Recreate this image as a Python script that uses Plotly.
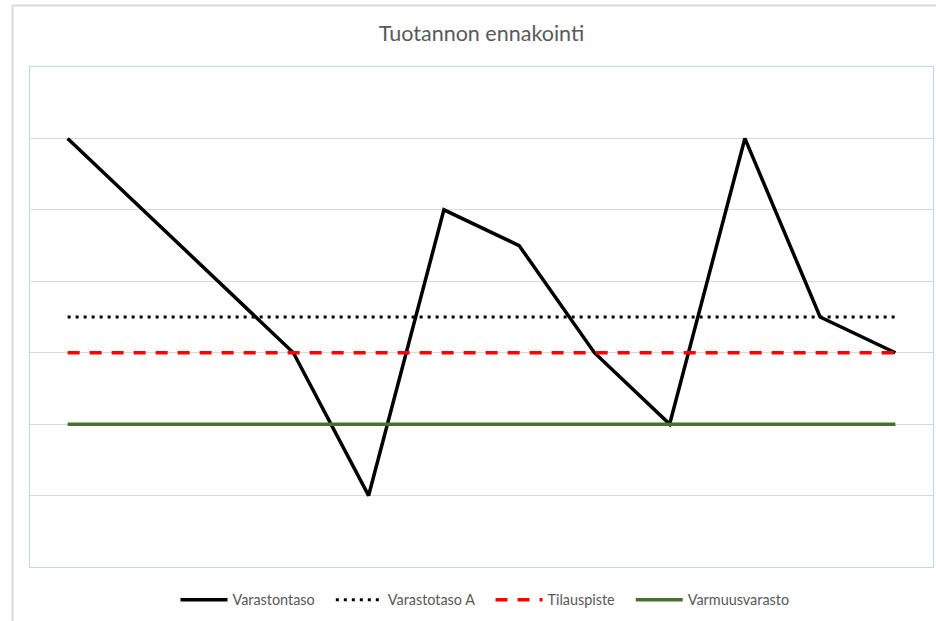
import plotly.graph_objects as go

periods = list(range(1, 13))
varastontaso = [6, 5, 4, 3, 1, 5, 4.5, 3, 2, 6, 3.5, 3]
varastotaso_a = [3.5] * 12
tilauspiste = [3] * 12
varmuusvarasto = [2] * 12
grid_vals = [1, 2, 3, 4, 5, 6]

PAD = "\u00a0" * 3

fig = go.Figure()
fig.add_trace(go.Scatter(x=periods, y=varastontaso, mode="lines", name="Varastontaso" + PAD,
                         line=dict(color="#000000", width=3.5)))
fig.add_trace(go.Scatter(x=periods, y=varastotaso_a, mode="lines", name="Varastotaso A" + PAD,
                         line=dict(color="#000000", width=3, dash="3px,5px")))
fig.add_trace(go.Scatter(x=periods, y=tilauspiste, mode="lines", name="Tilauspiste" + PAD,
                         line=dict(color="#ff0000", width=3.5, dash="12px,10px")))
fig.add_trace(go.Scatter(x=periods, y=varmuusvarasto, mode="lines", name="Varmuusvarasto",
                         line=dict(color="#4a7030", width=3.5)))

W, H = 936, 621
L, R, T, B = 30, 3, 67, 54
pw, ph = W - L - R, H - T - B

def px(x):
    return (x - L) / pw

def py(y):
    return (H - B - y) / ph

fig.update_layout(
    width=W, height=H,
    margin=dict(l=L, r=R, t=T, b=B),
    paper_bgcolor="white", plot_bgcolor="white",
    font=dict(family="Lato, Open Sans, sans-serif", color="#595959"),
    title=dict(text="Tuotannon ennakointi", x=0.5, xref="paper", xanchor="center",
               y=1 - 33 / H, yanchor="middle", font=dict(size=21.5, color="#595959")),
    xaxis=dict(range=[0.5, 12.5], showgrid=False, zeroline=False, showticklabels=False,
               showline=True, mirror=True, linecolor="#bdd7ee", linewidth=1.3, ticks=""),
    yaxis=dict(range=[0, 7], tickvals=grid_vals, showgrid=True, gridcolor="#d9d9d9", gridwidth=1,
               zeroline=False, showticklabels=False, showline=True, mirror=True,
               linecolor="#bdd7ee", linewidth=1.3, ticks=""),
    legend=dict(orientation="h", x=px(485), xanchor="center", y=py(600), yanchor="middle",
                font=dict(size=14.4, color="#595959"), itemwidth=47, bgcolor="rgba(0,0,0,0)"),
    showlegend=True,
    shapes=[
        dict(type="line", xref="paper", yref="paper", x0=px(12.5), x1=px(12.5), y0=py(5), y1=py(640),
             line=dict(color="#d9d9d9", width=2)),
        dict(type="line", xref="paper", yref="paper", x0=px(12.5), x1=px(950), y0=py(5.5), y1=py(5.5),
             line=dict(color="#d9d9d9", width=2)),
    ],
)

fig.write_html(
    "out.html",
    config={"displayModeBar": False},
    post_script="document.body.style.margin='0';document.body.style.overflow='hidden';",
)
